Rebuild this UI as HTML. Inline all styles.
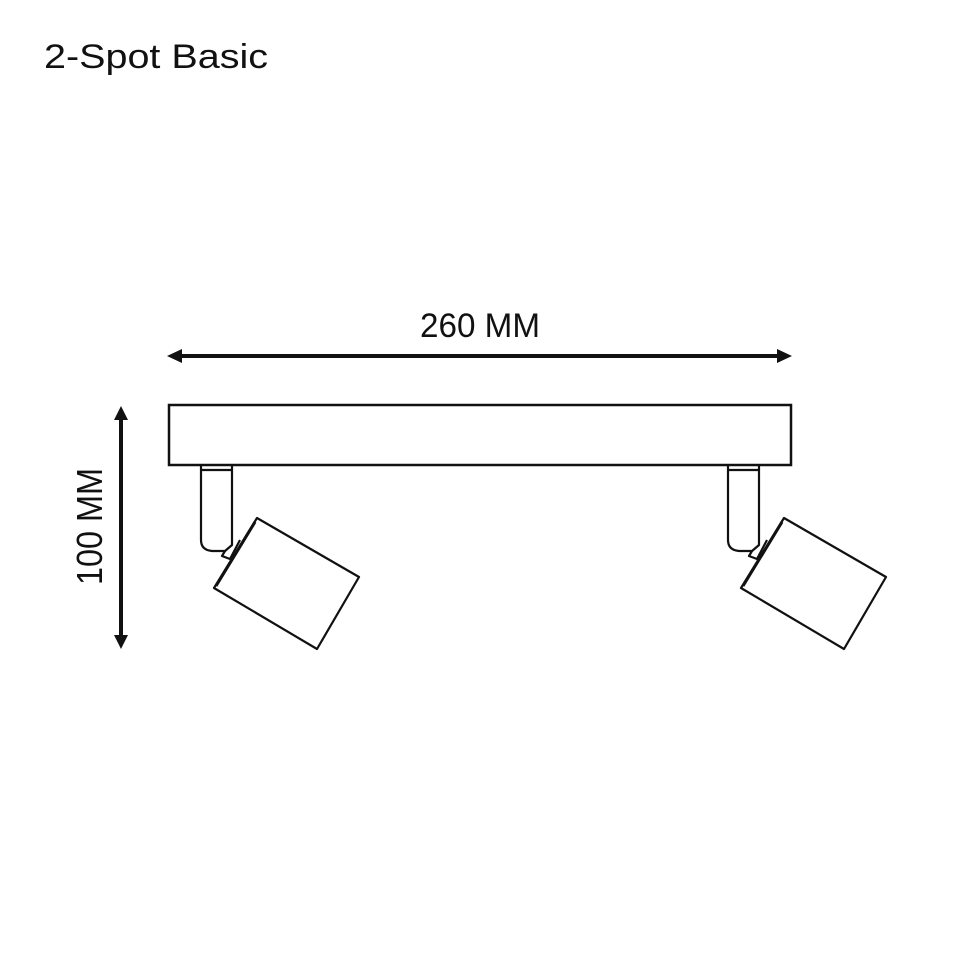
<!DOCTYPE html>
<html><head><meta charset="utf-8"><style>html,body{margin:0;padding:0;background:#fff}svg{display:block}</style></head>
<body>
<svg width="960" height="960" viewBox="0 0 960 960" xmlns="http://www.w3.org/2000/svg">
<rect width="960" height="960" fill="#fff"/>
<text x="44" y="68" font-family="Liberation Sans, sans-serif" font-size="34" fill="#111" textLength="224" lengthAdjust="spacingAndGlyphs">2-Spot Basic</text>
<text x="420" y="337" font-family="Liberation Sans, sans-serif" font-size="34" fill="#111" textLength="120" lengthAdjust="spacingAndGlyphs">260 MM</text>
<text transform="translate(102,585) rotate(-90)" font-family="Liberation Sans, sans-serif" font-size="36" fill="#111" textLength="117" lengthAdjust="spacingAndGlyphs">100 MM</text>
<g fill="#111">
<line x1="180" y1="356" x2="779" y2="356" stroke="#111" stroke-width="4"/>
<polygon points="167,356 182,349 182,363"/>
<polygon points="792,356 777,349 777,363"/>
<line x1="121" y1="418" x2="121" y2="637" stroke="#111" stroke-width="4"/>
<polygon points="121,406 114,420 128,420"/>
<polygon points="121,649 114,635 128,635"/>
</g>
<rect x="169" y="405" width="622" height="60" fill="none" stroke="#111" stroke-width="2.5"/>
<g id="spot" fill="none" stroke="#111" stroke-width="2.2" stroke-linejoin="round">
<path d="M201,466 L201,540 Q201,550 212,551 L225,551 L232,545 L232,466"/>
<line x1="202" y1="470" x2="231" y2="470"/>
<path d="M225,551 L222,556 L230,559 L240,540"/>
<polygon points="257,518 359,577 317,649 214,588" fill="#fff"/>
<line x1="255" y1="522" x2="216" y2="586" stroke-width="3"/>
</g>
<use href="#spot" transform="translate(527,0)"/>
</svg>
</body></html>
